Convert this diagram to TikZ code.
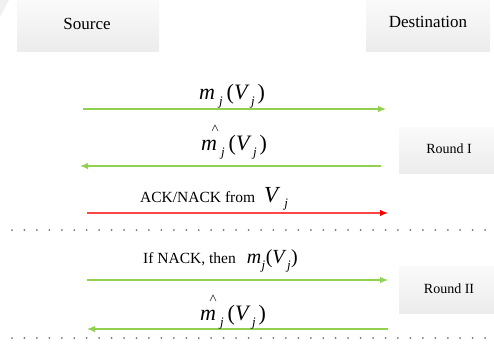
\documentclass[tikz,border=0pt]{standalone}
\usepackage{fontspec}
\setmainfont{Liberation Serif}
\usetikzlibrary{arrows.meta}
\definecolor{grn}{RGB}{146,208,80}
\definecolor{rdl}{RGB}{255,70,70}
\definecolor{boxtop}{RGB}{250,250,250}
\definecolor{boxbot}{RGB}{236,236,236}
\newcommand{\subj}{\raisebox{-0.3em}{\fontsize{13}{13}\selectfont\textit{j}}}
\newcommand{\mjs}{\textit{m}\kern4pt\subj\kern4pt(\textit{V}\kern1.5pt\subj\kern3pt)}
\newcommand{\mjt}{\textit{m}\kern0.5pt\subj\kern0.5pt(\textit{V}\kern0.5pt\subj\kern0.5pt)}
\begin{document}
\begin{tikzpicture}[x=1pt,y=-1pt,
  boxtxt/.style={font=\fontsize{17}{17}\selectfont,inner sep=0pt},
  rtxt/.style={font=\fontsize{14}{14}\selectfont,inner sep=0pt},
  mlbl/.style={font=\fontsize{22}{22}\selectfont,inner sep=0pt,anchor=base west},
  tlbl/.style={font=\fontsize{15.5}{15.5}\selectfont,inner sep=0pt,anchor=base west},
  caret/.style={black!85,line width=0.6pt},
  garr/.style={grn,line width=1.2pt,-{Latex[length=8pt,width=6.5pt]}},
  rarr/.style={rdl,line width=1.2pt,-{Latex[length=8pt,width=6.5pt,color=red]}},
  dots/.style={black!55,line width=2pt,line cap=round,dash pattern=on 0pt off 12.45pt}]
\useasboundingbox (0,0) rectangle (494,348);
% corner wedge
\fill[gray!12] (0,0) -- (9,0) -- (0,17) -- cycle;
% header boxes
\shade[top color=boxtop,bottom color=boxbot] (17,0) rectangle (159,51);
\node[boxtxt] (src) at (87,24) {Source};
\shade[top color=boxtop,bottom color=boxbot] (366,0) rectangle (490,51);
\node[boxtxt] (dst) at (428,22) {Destination};
% round boxes
\shade[top color=boxtop,bottom color=boxbot] (399,127) rectangle (494,173);
\node[rtxt] (r1) at (449,149) {Round I};
\shade[top color=boxtop,bottom color=boxbot] (399,266) rectangle (494,313);
\node[rtxt] (r2) at (449,289) {Round II};
% coordinates
\coordinate (a1s) at (83,109);  \coordinate (a1d) at (386,109);
\coordinate (a2d) at (381,166); \coordinate (a2s) at (80,166);
\coordinate (a3s) at (87,213);  \coordinate (a3d) at (388,213);
\coordinate (a4s) at (87,280);  \coordinate (a4d) at (388,280);
\coordinate (a5d) at (388,329); \coordinate (a5s) at (87,329);
\coordinate (d1l) at (12,230);  \coordinate (d1r) at (490,230);
\coordinate (d2l) at (12,338);  \coordinate (d2r) at (490,338);
% arrows
\draw[garr] (a1s) -- (a1d);
\draw[garr] (a2d) -- (a2s);
\draw[rarr] (a3s) -- (a3d);
\draw[garr] (a4s) -- (a4d);
\draw[garr] (a5d) -- (a5s);
\draw[dots] (d1l) -- (d1r);
\draw[dots] (d2l) -- (d2r);
% labels
\node[mlbl] (l1) at (199,99) {\mjs};
\node[mlbl] (l2) at (201,150) {\mjs};
\draw[caret] ([shift={(11,-19)}]l2.base west) -- ([shift={(14,-25)}]l2.base west) -- ([shift={(17,-19)}]l2.base west);
\node[tlbl] (l3) at (140,202) {ACK/NACK from\kern9pt{\fontsize{23}{23}\selectfont\textit{V}}\kern4pt\raisebox{-0.35em}{\fontsize{13}{13}\selectfont\textit{j}}};
\node[tlbl] (l4) at (143,263) {If NACK, then\kern11pt{\fontsize{20}{20}\selectfont\mjt}};
\node[mlbl] (l5) at (200,320) {\mjs};
\draw[caret] ([shift={(10,-19)}]l5.base west) -- ([shift={(13,-25)}]l5.base west) -- ([shift={(16,-19)}]l5.base west);
\end{tikzpicture}
\end{document}
